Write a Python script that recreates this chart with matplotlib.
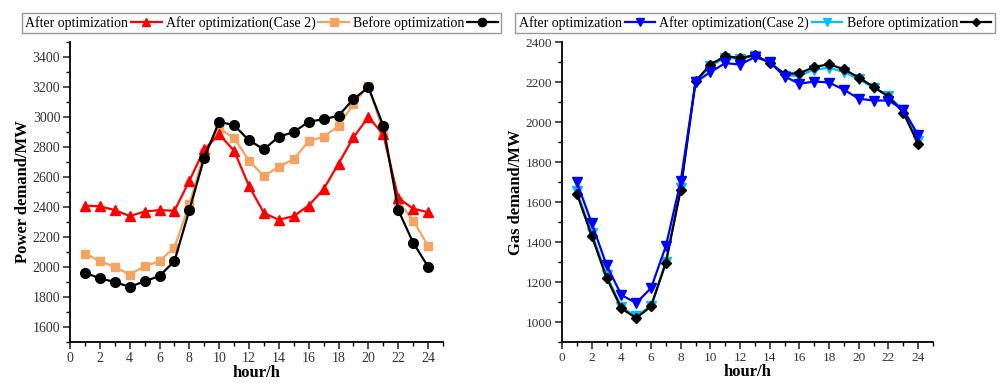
import matplotlib
matplotlib.use("Agg")
import matplotlib.pyplot as plt
from matplotlib.ticker import MultipleLocator

plt.rcParams['font.family'] = ['Liberation Serif', 'DejaVu Serif']

hours = list(range(1, 25))

# power demand (MW)
power_after = [2410, 2405, 2380, 2340, 2370, 2380, 2375, 2575, 2785, 2885, 2775, 2540, 2360, 2315,
               2340, 2410, 2520, 2690, 2865, 3000, 2885, 2460, 2390, 2365]
power_case2 = [2090, 2040, 2000, 1950, 2005, 2040, 2130, 2420, 2760, 2925, 2860, 2710, 2605, 2670,
               2720, 2840, 2870, 2940, 3090, 3210, 2900, 2440, 2310, 2140]
power_before = [1962, 1925, 1900, 1868, 1905, 1940, 2040, 2380, 2730, 2970, 2945, 2845, 2785, 2870,
                2900, 2970, 2985, 3010, 3120, 3198, 2942, 2380, 2163, 2002]

# gas demand (MW)
gas_after = [1700, 1495, 1285, 1135, 1095, 1170, 1380, 1705, 2200, 2250, 2295, 2288, 2325, 2302,
             2228, 2192, 2203, 2198, 2162, 2117, 2108, 2108, 2063, 1935]
gas_case2 = [1655, 1445, 1235, 1075, 1028, 1082, 1302, 1672, 2200, 2280, 2322, 2316, 2332, 2296,
             2232, 2232, 2262, 2272, 2250, 2215, 2172, 2130, 2062, 1905]
gas_before = [1642, 1432, 1222, 1068, 1020, 1078, 1296, 1662, 2205, 2288, 2330, 2321, 2335, 2296,
              2242, 2244, 2276, 2289, 2264, 2223, 2176, 2128, 2048, 1890]

fig = plt.figure(figsize=(10, 3.83), dpi=100)
ax1 = fig.add_axes([0.070, 0.107, 0.373, 0.783])
ax2 = fig.add_axes([0.562, 0.107, 0.371, 0.783])


def style_axis(ax, ylim, ylabel, tsize):
    ax.set_xlim(0, 25)
    ax.set_ylim(*ylim)
    ax.spines['top'].set_visible(False)
    ax.spines['right'].set_visible(False)
    ax.spines['left'].set_linewidth(1.3)
    ax.spines['bottom'].set_linewidth(1.3)
    ax.xaxis.set_major_locator(MultipleLocator(2))
    ax.xaxis.set_minor_locator(MultipleLocator(1))
    ax.yaxis.set_major_locator(MultipleLocator(200))
    ax.yaxis.set_minor_locator(MultipleLocator(100))
    ax.tick_params(which='major', direction='out', length=5, width=1.2, labelsize=tsize,
                   colors='#333333', pad=2)
    ax.tick_params(which='minor', direction='out', length=3, width=1.0)
    ax.set_xlabel('hour/h', fontsize=12, fontweight='bold', labelpad=0)
    ax.set_ylabel(ylabel, fontsize=12, fontweight='bold', labelpad=1)


ax1.plot(hours, power_after, color='#ff0000', marker='^', markersize=7, lw=1.6,
         label='After optimization', zorder=3)
ax1.plot(hours, power_case2, color='#f4a460', marker='s', markersize=6, lw=1.6,
         label='After optimization(Case 2)', zorder=2)
ax1.plot(hours, power_before, color='black', marker='o', markersize=7, lw=1.6,
         label='Before optimization', zorder=4)
style_axis(ax1, (1500, 3500), 'Power demand/MW', 10)
ax1.set_yticks(range(1600, 3401, 200))

ax2.plot(hours, gas_after, color='#0000ff', marker='v', markersize=7, lw=1.6,
         label='After optimization', zorder=4)
ax2.plot(hours, gas_case2, color='#00bfff', marker='v', markersize=7, lw=1.6,
         label='After optimization(Case 2)', zorder=2)
ax2.plot(hours, gas_before, color='black', marker='D', markersize=5, lw=1.6,
         label='Before optimization', zorder=3)
style_axis(ax2, (900, 2400), 'Gas demand/MW', 9.5)
ax2.set_yticks(range(1000, 2401, 200))

for ax, xc in [(ax1, 0.2615), (ax2, 0.755)]:
    leg = ax.legend(loc='center', bbox_to_anchor=(xc, 0.94),
                    bbox_transform=fig.transFigure, ncol=3,
                    markerfirst=False, fontsize=10, handlelength=2.2,
                    handletextpad=0.2, columnspacing=0.3, borderpad=0.25,
                    borderaxespad=0, markerscale=0.85,
                    fancybox=False, framealpha=1, edgecolor='#999999')
    leg.get_frame().set_linewidth(1.0)

fig.savefig('out.png', dpi=100)
